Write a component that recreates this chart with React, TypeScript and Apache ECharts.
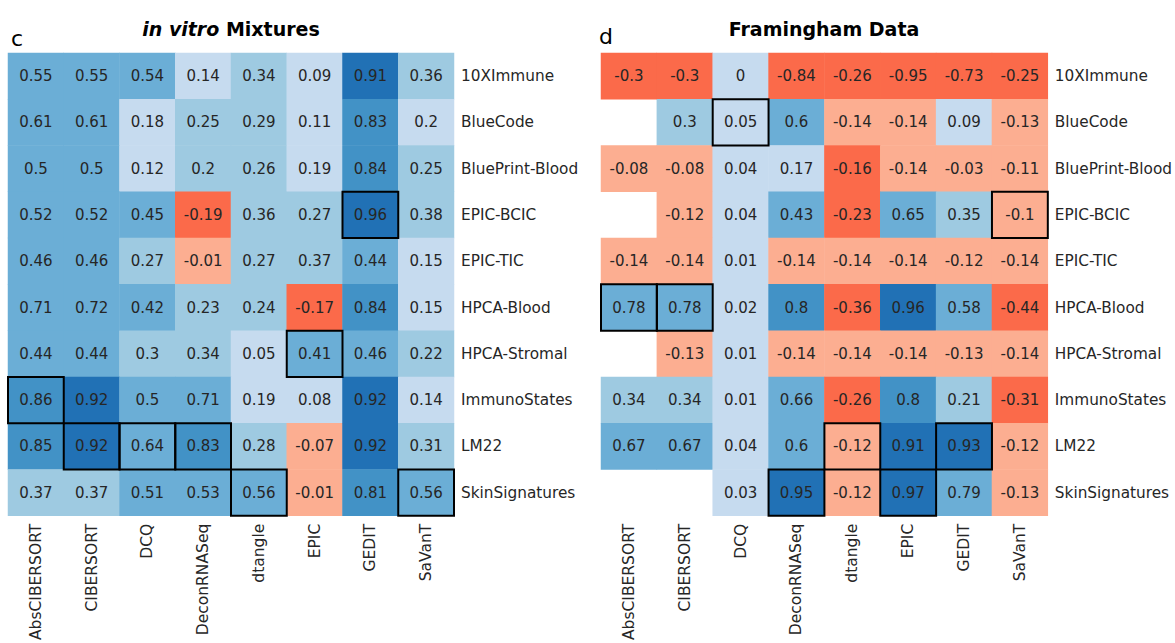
import React, { useEffect, useRef } from "react";
import * as echarts from "echarts";

const methods = ["AbsCIBERSORT", "CIBERSORT", "DCQ", "DeconRNASeq", "dtangle", "EPIC", "GEDIT", "SaVanT"];
const signatures = [
  "10XImmune",
  "BlueCode",
  "BluePrint-Blood",
  "EPIC-BCIC",
  "EPIC-TIC",
  "HPCA-Blood",
  "HPCA-Stromal",
  "ImmunoStates",
  "LM22",
  "SkinSignatures",
];

// panel c: in vitro mixtures (rows = signatures, cols = methods)
const vitroValues: (number | null)[][] = [
  [0.55, 0.55, 0.54, 0.14, 0.34, 0.09, 0.91, 0.36],
  [0.61, 0.61, 0.18, 0.25, 0.29, 0.11, 0.83, 0.198],
  [0.5, 0.5, 0.12, 0.2, 0.26, 0.19, 0.84, 0.25],
  [0.52, 0.52, 0.45, -0.19, 0.36, 0.27, 0.96, 0.38],
  [0.46, 0.46, 0.27, -0.01, 0.27, 0.37, 0.44, 0.15],
  [0.71, 0.72, 0.42, 0.23, 0.24, -0.17, 0.84, 0.15],
  [0.44, 0.44, 0.3, 0.34, 0.05, 0.41, 0.46, 0.22],
  [0.86, 0.92, 0.5, 0.71, 0.19, 0.08, 0.92, 0.14],
  [0.85, 0.92, 0.64, 0.83, 0.28, -0.07, 0.92, 0.31],
  [0.37, 0.37, 0.51, 0.53, 0.56, -0.01, 0.81, 0.56],
];
// highlighted (best) cells: [methodIndex, signatureIndex]
const vitroBest: number[][] = [
  [0, 7], [1, 8], [2, 8], [3, 8], [4, 9], [5, 6], [6, 3], [7, 9],
];

// panel d: Framingham data
const framValues: (number | null)[][] = [
  [-0.3, -0.3, 0, -0.84, -0.26, -0.95, -0.73, -0.25],
  [null, 0.3, 0.05, 0.6, -0.14, -0.14, 0.09, -0.13],
  [-0.08, -0.08, 0.04, 0.17, -0.16, -0.14, -0.03, -0.11],
  [null, -0.12, 0.04, 0.43, -0.23, 0.65, 0.35, -0.1],
  [-0.14, -0.14, 0.01, -0.14, -0.14, -0.14, -0.12, -0.14],
  [0.78, 0.78, 0.02, 0.8, -0.36, 0.96, 0.58, -0.44],
  [null, -0.13, 0.01, -0.14, -0.14, -0.14, -0.13, -0.14],
  [0.34, 0.34, 0.01, 0.66, -0.26, 0.8, 0.21, -0.31],
  [0.67, 0.67, 0.04, 0.6, -0.12, 0.91, 0.93, -0.12],
  [null, null, 0.03, 0.95, -0.12, 0.97, 0.79, -0.13],
];
const framBest: number[][] = [
  [0, 5], [1, 5], [2, 1], [3, 9], [4, 8], [5, 9], [6, 8], [7, 3],
];

const FONT = "DejaVu Sans";
const TXT = "#262626";

function toCells(values: (number | null)[][]) {
  const out: number[][] = [];
  values.forEach((row, r) =>
    row.forEach((v, c) => {
      if (v !== null) out.push([c, r, v]);
    })
  );
  return out;
}

export default function App() {
  const ref = useRef<HTMLDivElement>(null);
  useEffect(() => {
    if (!ref.current) return;
    const chart = echarts.init(ref.current, null, { renderer: "svg" });
    const grids = [
      { left: 8, top: 53, width: 446, height: 463 },
      { left: 601, top: 53, width: 447, height: 463 },
    ];
    const xAxis = grids.map((_, i) => ({
      type: "category",
      gridIndex: i,
      data: methods,
      position: "bottom",
      axisLine: { show: false },
      axisTick: { show: false },
      splitLine: { show: false },
      axisLabel: { rotate: 90, margin: 8, fontSize: 15.5, fontFamily: FONT, color: TXT, interval: 0 },
    }));
    const yAxis = grids.map((_, i) => ({
      type: "category",
      gridIndex: i,
      data: signatures,
      inverse: true,
      position: "right",
      axisLine: { show: false },
      axisTick: { show: false },
      splitLine: { show: false },
      axisLabel: { margin: 7, fontSize: 15.3, fontFamily: FONT, color: TXT, interval: 0 },
    }));
    const heat = (idx: number, values: (number | null)[][]) => ({
      type: "heatmap",
      xAxisIndex: idx,
      yAxisIndex: idx,
      data: toCells(values),
      itemStyle: { borderWidth: 0 },
      label: {
        show: true,
        fontSize: 15,
        fontFamily: FONT,
        color: TXT,
        formatter: (p: any) => String(Math.round(p.value[2] * 100) / 100),
      },
      emphasis: { disabled: true },
    });
    const boxes = (idx: number, best: number[][]) => ({
      type: "custom",
      xAxisIndex: idx,
      yAxisIndex: idx,
      z: 10,
      silent: true,
      data: best,
      renderItem: (params: any, api: any) => {
        const p = api.coord([api.value(0), api.value(1)]);
        const s = api.size([1, 1]);
        return {
          type: "rect",
          shape: { x: p[0] - s[0] / 2, y: p[1] - s[1] / 2, width: s[0], height: s[1] },
          style: { fill: "none", stroke: "#000", lineWidth: 2 },
        };
      },
    });
    chart.setOption({
      animation: false,
      backgroundColor: "#fff",
      grid: grids,
      xAxis,
      yAxis,
      visualMap: {
        type: "piecewise",
        show: false,
        dimension: 2,
        seriesIndex: [0, 1],
        pieces: [
          { lt: -0.15, color: "#fb6a4a" },
          { gte: -0.15, lt: 0, color: "#fcae91" },
          { gte: 0, lt: 0.2, color: "#c6dbef" },
          { gte: 0.2, lt: 0.4, color: "#9ecae1" },
          { gte: 0.4, lt: 0.795, color: "#6baed6" },
          { gte: 0.795, lt: 0.9, color: "#4292c6" },
          { gte: 0.9, color: "#2171b5" },
        ],
      },
      series: [heat(0, vitroValues), heat(1, framValues), boxes(0, vitroBest), boxes(1, framBest)],
      graphic: [
        {
          type: "text",
          x: 231,
          y: 29,
          style: {
            text: "{i|in vitro }{b|Mixtures}",
            align: "center",
            verticalAlign: "middle",
            rich: {
              i: { fontSize: 19, fontWeight: "bold", fontStyle: "italic", fontFamily: FONT, fill: "#000" },
              b: { fontSize: 19, fontWeight: "bold", fontFamily: FONT, fill: "#000" },
            },
          },
        },
        {
          type: "text",
          x: 824,
          y: 29,
          style: {
            text: "Framingham Data",
            align: "center",
            verticalAlign: "middle",
            fontSize: 19,
            fontWeight: "bold",
            fontFamily: FONT,
            fill: "#000",
          },
        },
        {
          type: "text",
          x: 11,
          y: 38,
          style: { text: "c", verticalAlign: "middle", fontSize: 22, fontFamily: FONT, fill: "#000" },
        },
        {
          type: "text",
          x: 599,
          y: 36,
          style: { text: "d", verticalAlign: "middle", fontSize: 22, fontFamily: FONT, fill: "#000" },
        },
      ],
    });
    return () => chart.dispose();
  }, []);
  return (
    <div
      ref={ref}
      style={{ position: "fixed", left: 0, top: 0, width: 1175, height: 643, background: "#fff" }}
    />
  );
}
